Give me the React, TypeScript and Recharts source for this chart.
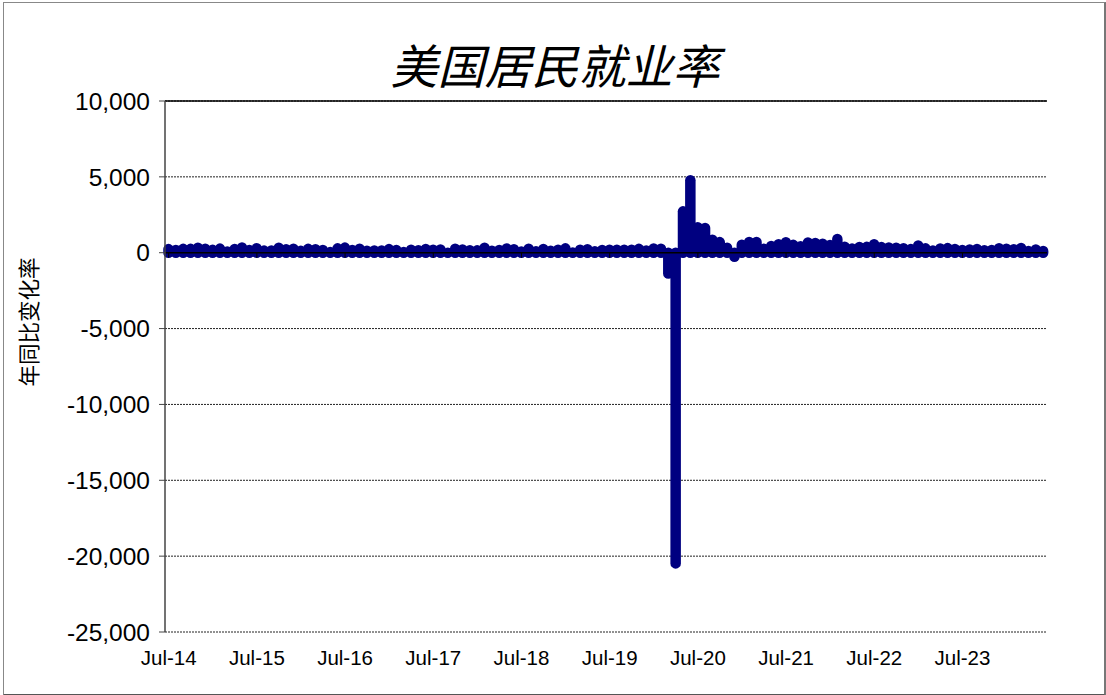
import { BarChart, Bar, XAxis, YAxis, CartesianGrid, ReferenceLine } from 'recharts';

// monthly change, thousands (Jul-14 .. Jun-24)
const v2014 = [237, 186, 254, 254, 322, 264];
const v2015 = [189, 271, 80, 249, 345, 180, 290, 138, 144, 324, 229, 267];
const v2016 = [123, 254, 230, 174, 39, 288, 337, 174, 269, 127, 153, 147];
const v2017 = [237, 182, 42, 195, 169, 249, 192, 217, 5, 258, 218, 159];
const v2018 = [156, 328, 137, 180, 276, 225, 86, 256, 99, 252, 136, 197];
const v2019 = [287, 10, 201, 224, 95, 182, 191, 197, 192, 194, 254, 142];
const v2020 = [284, 260, -1373, -20477, 2725, 4782, 1673, 1636, 852, 700, 326, -268];
const v2021 = [520, 710, 704, 264, 447, 557, 689, 517, 424, 677, 647, 588];
const v2022 = [504, 904, 398, 285, 372, 387, 562, 370, 350, 324, 290, 239];
const v2023 = [482, 287, 146, 278, 303, 240, 184, 210, 246, 165, 182, 290];
const v2024 = [256, 236, 310, 108, 216, 118];

const MONTHS = ['Jan', 'Feb', 'Mar', 'Apr', 'May', 'Jun', 'Jul', 'Aug', 'Sep', 'Oct', 'Nov', 'Dec'];
const YEARS = [2014, 2015, 2016, 2017, 2018, 2019, 2020, 2021, 2022, 2023, 2024];
const SERIES = [v2014, v2015, v2016, v2017, v2018, v2019, v2020, v2021, v2022, v2023, v2024];

const X_TICKS = ['Jul-14', 'Jul-15', 'Jul-16', 'Jul-17', 'Jul-18', 'Jul-19', 'Jul-20', 'Jul-21', 'Jul-22', 'Jul-23'];
const Y_TICKS = [-25000, -20000, -15000, -10000, -5000, 0, 5000, 10000];

const data = SERIES.flatMap((vals, yi) => {
  const startMonth = yi === 0 ? 6 : 0;
  return vals.map((v, i) => ({
    month: `${MONTHS[startMonth + i]}-${String(YEARS[yi]).slice(2)}`,
    v,
  }));
});

const W = 1106;
const H = 695;
const TOP = 101;
const PLOT_H = 531;
const Y_MIN = -25000;
const Y_MAX = 10000;
const zeroY = TOP + (PLOT_H * (Y_MAX - 0)) / (Y_MAX - Y_MIN);

const FONT = '"Liberation Sans", Arial, sans-serif';
const CJK = '"Noto Sans CJK SC", sans-serif';

function XTick(props: any) {
  const { x, y, payload } = props;
  return (
    <g>
      <line x1={x} x2={x} y1={zeroY} y2={zeroY + 5} stroke="#000" strokeWidth={1} />
      <text x={x} y={y + 33} textAnchor="middle" fontSize={20.5} fontFamily={FONT} fill="#000">
        {payload.value}
      </text>
    </g>
  );
}

// thick navy bar with rounded ends, like the Excel border look
function PillBar(props: any) {
  const { x, y, width, height } = props;
  const cx = x + width / 2;
  return (
    <line
      x1={cx}
      x2={cx}
      y1={y}
      y2={y + height}
      stroke="#000080"
      strokeWidth={10.5}
      strokeLinecap="round"
    />
  );
}

export default function App() {
  return (
    <div style={{ position: 'absolute', left: 0, top: 0, width: W, height: H, background: '#fff' }}>
      <div
        style={{
          position: 'absolute',
          left: 3,
          top: 2,
          width: 1100,
          height: 691,
          borderTop: '1px solid #888',
          borderLeft: '1px solid #888',
          borderRight: '2px solid #777',
          borderBottom: '2px solid #555',
        }}
      />
      <BarChart
        width={W}
        height={H}
        data={data}
        margin={{ top: TOP, right: 59, left: 0, bottom: 22 }}
        barCategoryGap={0}
        style={{ position: 'absolute', left: 0, top: 0 }}
      >
        <CartesianGrid vertical={false} stroke="#222" strokeDasharray="2 1" />
        <XAxis
          dataKey="month"
          ticks={X_TICKS}
          interval={0}
          tick={<XTick />}
          tickLine={false}
          axisLine={false}
          tickSize={0}
          tickMargin={0}
          height={41}
        />
        <YAxis
          domain={[Y_MIN, Y_MAX]}
          ticks={Y_TICKS}
          interval={0}
          width={165}
          tickFormatter={(v: number) => v.toLocaleString('en-US')}
          tick={{ fontSize: 24.5, fill: '#000', fontFamily: FONT }}
          tickSize={6}
          tickMargin={9}
          tickLine={{ stroke: '#444' }}
          axisLine={{ stroke: '#444', strokeWidth: 1.5 }}
        />
        <YAxis
          yAxisId="right"
          orientation="right"
          domain={[Y_MIN, Y_MAX]}
          width={0}
          tick={false}
          tickLine={false}
          axisLine={{ stroke: '#888', strokeWidth: 2 }}
        />
        <Bar
          dataKey="v"
          fill="#000080"
          barSize={3}
          shape={<PillBar />}
          isAnimationActive={false}
        />
        <ReferenceLine y={0} stroke="#000" strokeWidth={1.5} />
        <ReferenceLine y={Y_MAX} stroke="#000" strokeWidth={1.5} />
      </BarChart>
      <svg width={W} height={H} style={{ position: 'absolute', left: 0, top: 0, pointerEvents: 'none' }}>
        <text
          x={555}
          y={84}
          textAnchor="middle"
          fontSize={47}
          fontStyle="italic"
          fontFamily={CJK}
          fill="#000"
        >
          美国居民就业率
        </text>
        <text
          x={27}
          y={322}
          textAnchor="middle"
          dominantBaseline="central"
          fontSize={21.5}
          fontFamily={CJK}
          fill="#000"
          transform="rotate(-90 27 322)"
        >
          年同比变化率
        </text>
      </svg>
    </div>
  );
}
